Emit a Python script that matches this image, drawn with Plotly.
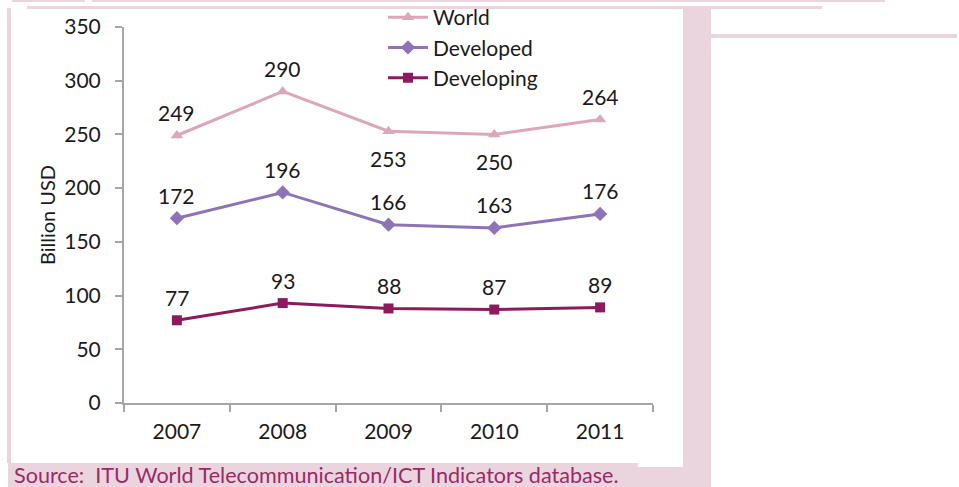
import plotly.graph_objects as go

years = ["2007", "2008", "2009", "2010", "2011"]
world = [249, 290, 253, 250, 264]
developed = [172, 196, 166, 163, 176]
developing = [77, 93, 88, 87, 89]
series_names = ["World", "Developed", "Developing"]
y_ticks = [0, 50, 100, 150, 200, 250, 300, 350]
source_text = "Source:  ITU World Telecommunication/ICT Indicators database."

W, H = 959, 487
L, R, T, B = 124, 653, 27, 403
FONT = "Lato, Open Sans, sans-serif"
PINK = "#EAD5DE"
FS = 21

colors = ["#DCA7BB", "#8E73B9", "#8C1B5D"]
symbols = ["triangle-up", "diamond", "square"]
sizes = [11, 11, 10]
label_pos = [["above", "above", "below", "below", "above"],
             ["above"] * 5, ["above"] * 5]

xi = list(range(len(years)))

fig = go.Figure()
all_series = [world, developed, developing]
for name, vals, c, s, sz in zip(series_names, all_series, colors, symbols, sizes):
    fig.add_trace(go.Scatter(
        x=xi, y=vals, name=name, mode="lines+markers",
        line=dict(color=c, width=3), marker=dict(symbol=s, size=sz, color=c),
    ))

annotations = []
for vals, pos in zip(all_series, label_pos):
    for x, v, p in zip(xi, vals, pos):
        annotations.append(dict(
            x=x, y=v, xref="x", yref="y", text=str(v), showarrow=False,
            yshift=23 if p == "above" else -27,
            font=dict(family=FONT, size=FS, color="#1a1a1a"),
        ))

def px(x):
    return (x - L) / (R - L)

def py(y):
    return (B - y) / (B - T)

shapes = []
def rect(x0, y0, x1, y1):
    shapes.append(dict(type="rect", xref="paper", yref="paper",
                       x0=px(x0), x1=px(x1), y0=py(y1), y1=py(y0),
                       fillcolor=PINK, line=dict(width=0), layer="below"))

rect(12, 0, 85, 2)
rect(92, 0, 885, 2)
rect(27, 6, 822, 9)
rect(7, 8, 11, 463)
rect(8, 463, 638, 487)
rect(638, 467, 711, 487)
rect(683, 8, 711, 487)
rect(711, 34, 957, 38)

annotations.append(dict(
    x=px(12), y=py(475), xref="paper", yref="paper", xanchor="left", yanchor="middle",
    text=source_text, showarrow=False,
    font=dict(family=FONT, size=21.6, color="#9A2A66"),
))

fig.update_layout(
    width=W, height=H,
    margin=dict(l=L, r=W - R, t=T, b=H - B, autoexpand=False),
    paper_bgcolor="white", plot_bgcolor="white",
    font=dict(family=FONT, size=FS, color="#1a1a1a"),
    showlegend=True,
    legend=dict(x=px(383), y=py(-3), xanchor="left", yanchor="top",
                bgcolor="rgba(0,0,0,0)", font=dict(size=FS), tracegroupgap=0,
                itemwidth=40),
    annotations=annotations, shapes=shapes,
)
fig.update_xaxes(range=[-0.5, len(years) - 0.5], tickvals=xi, ticktext=years,
                 showline=True, linecolor="#A6A6A6", linewidth=2, ticks="",
                 minor=dict(tickvals=[i - 0.5 for i in range(len(years) + 1)],
                            ticks="outside", ticklen=7, tickwidth=2,
                            tickcolor="#A6A6A6", showgrid=False),
                 showgrid=False, zeroline=False, ticklabelstandoff=9)
fig.update_yaxes(range=[0, 350], tickvals=y_ticks, showline=True,
                 linecolor="#A6A6A6", linewidth=2, ticks="outside", ticklen=7,
                 tickwidth=2, tickcolor="#A6A6A6", showgrid=False, zeroline=False,
                 title=dict(text="Billion USD", standoff=3, font=dict(size=20)),
                 ticklabelstandoff=10)

fig.write_html("out.html")
